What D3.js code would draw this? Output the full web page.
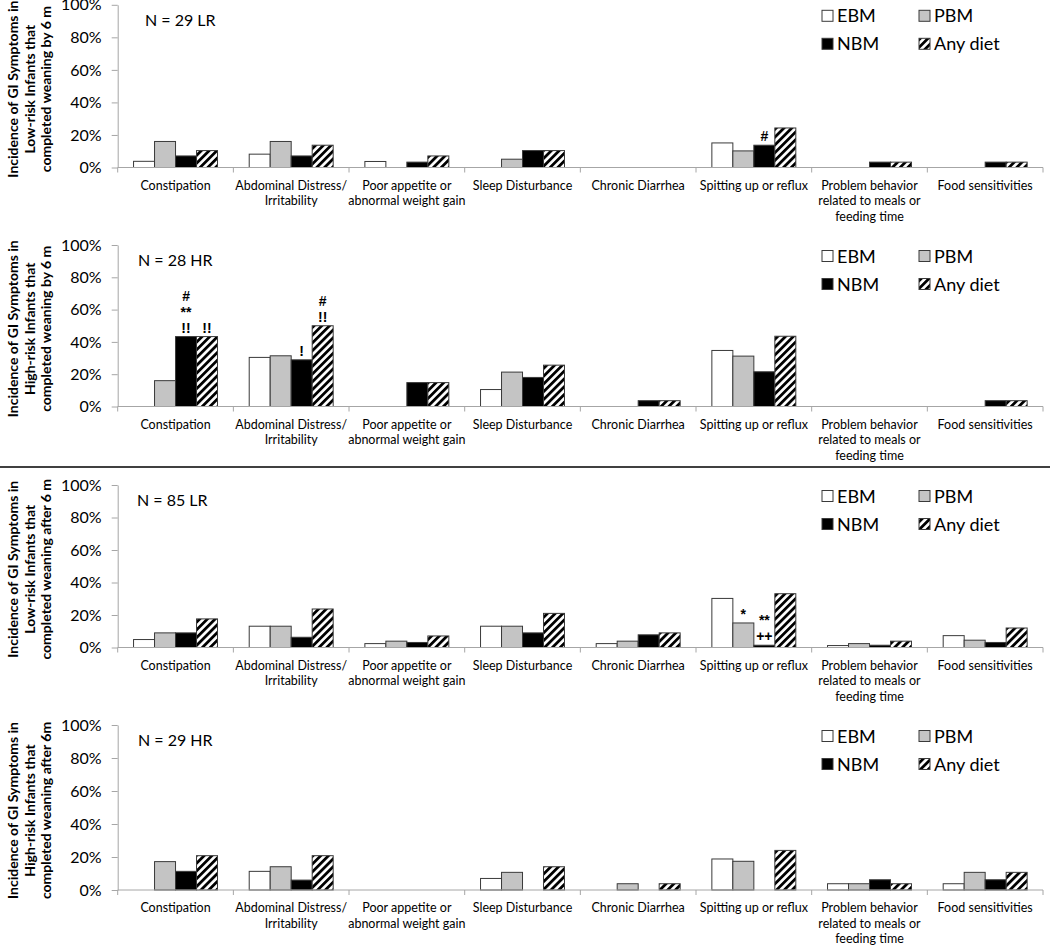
<!DOCTYPE html>
<html>
<head>
<meta charset="utf-8">
<script src="https://cdn.jsdelivr.net/npm/d3@7"></script>
<style>
  html, body { margin: 0; padding: 0; background: #fff; }
  svg { display: block; font-family: Lato, "Open Sans", sans-serif; }
</style>
</head>
<body>
<svg id="chart" width="1050" height="945"></svg>
<script>
// ---------------- data ----------------
const categories = [
  ["Constipation"],
  ["Abdominal Distress/", "Irritability"],
  ["Poor appetite or", "abnormal weight gain"],
  ["Sleep Disturbance"],
  ["Chronic Diarrhea"],
  ["Spitting up or reflux"],
  ["Problem behavior", "related to meals or", "feeding time"],
  ["Food sensitivities"]
];
const seriesNames = ["EBM", "PBM", "NBM", "Any diet"];
const yTicks = [0, 20, 40, 60, 80, 100];

const panelTitles = ["N = 29 LR", "N = 28 HR", "N = 85 LR", "N = 29 HR"];
const yLabels = [
  ["Incidence of GI Symptoms in", "Low-risk Infants that", "completed weaning by 6 m"],
  ["Incidence of GI Symptoms in", "High-risk Infants that", "completed weaning by 6 m"],
  ["Incidence of GI Symptoms in", "Low-risk Infants that", "completed weaning after 6 m"],
  ["Incidence of GI Symptoms in", "High-risk Infants that", "completed weaning after 6m"]
];

// values (%) per panel, per series, per category
const p1EBM = [3.8, 8.2, 3.7, 0, 0, 15.1, 0, 0];
const p1PBM = [16.0, 16.0, 0, 5.1, 0, 10.2, 0, 0];
const p1NBM = [7.1, 7.1, 3.3, 10.4, 0, 13.7, 3.3, 3.3];
const p1Any = [10.4, 13.7, 7.1, 10.4, 0, 24.3, 3.3, 3.3];

const p2EBM = [0, 30.4, 0, 10.5, 0, 34.7, 0, 0];
const p2PBM = [16.0, 31.4, 0, 21.3, 0, 31.2, 0, 0];
const p2NBM = [43.3, 28.9, 14.8, 18.0, 3.6, 21.5, 0, 3.6];
const p2Any = [43.3, 50.0, 14.8, 25.6, 3.6, 43.5, 0, 3.6];

const p3EBM = [4.9, 13.1, 2.4, 13.1, 2.4, 30.2, 1.2, 7.3];
const p3PBM = [9.0, 13.1, 3.9, 13.1, 3.9, 15.1, 2.4, 4.5];
const p3NBM = [9.0, 6.3, 3.1, 9.0, 7.8, 1.4, 1.4, 3.1];
const p3Any = [17.6, 23.7, 7.1, 21.0, 9.0, 33.1, 3.9, 12.0];

const p4EBM = [0, 11.3, 0, 7.0, 0, 18.8, 3.8, 3.8];
const p4PBM = [17.2, 14.1, 0, 10.7, 3.8, 17.4, 3.8, 10.7];
const p4NBM = [11.3, 6.0, 0, 0, 0, 0, 6.2, 6.2];
const p4Any = [20.8, 20.8, 0, 14.1, 3.8, 24.0, 3.8, 10.7];

// significance marks: [panel, category index, series index, lines top->bottom]
const annotations = [
  [0, 5, 2, ["#"]],
  [1, 0, 2, ["#", "**", "!!"]],
  [1, 0, 3, ["!!"]],
  [1, 1, 2, ["!"]],
  [1, 1, 3, ["#", "!!"]],
  [2, 5, 1, ["*"]],
  [2, 5, 2, ["**", "++"]]
];

const panelValues = [
  [p1EBM, p1PBM, p1NBM, p1Any],
  [p2EBM, p2PBM, p2NBM, p2Any],
  [p3EBM, p3PBM, p3NBM, p3Any],
  [p4EBM, p4PBM, p4NBM, p4Any]
];

// ---------------- layout ----------------
const svg = d3.select("#chart");
const panelY = [ [4.8, 167.5], [245, 406.5], [485, 647.5], [725, 890] ]; // [top(100%), bottom(0%)]
const titleX = [145, 138, 137, 138];
const xLeft = 117.7, xRight = 1043;

const defs = svg.append("defs");
const pat = defs.append("pattern")
  .attr("id", "hatch").attr("patternUnits", "userSpaceOnUse")
  .attr("width", 5.5).attr("height", 5.5)
  .attr("patternTransform", "rotate(45)");
pat.append("rect").attr("width", 5.5).attr("height", 5.5).attr("fill", "#fff");
pat.append("rect").attr("width", 2.8).attr("height", 5.5).attr("fill", "#000");

const fills = ["#ffffff", "#c4c4c4", "#000000", "url(#hatch)"];

const x0 = d3.scaleBand().domain(d3.range(categories.length)).range([xLeft, xRight]).paddingInner(0).paddingOuter(0);
const x1 = d3.scaleBand().domain(d3.range(seriesNames.length)).range([0, x0.bandwidth()]).paddingInner(0).paddingOuter(0.755);

panelY.forEach((py, pi) => {
  const g = svg.append("g");
  const y = d3.scaleLinear().domain([0, 100]).range([py[1], py[0]]);

  // y axis
  const yAxis = g.append("g").attr("transform", `translate(${xLeft},0)`)
    .call(d3.axisLeft(y).tickValues(yTicks).tickFormat(d => d + "%").tickSize(6).tickSizeOuter(0).tickPadding(10));
  yAxis.select(".domain").attr("stroke", "#a6a6a6");
  yAxis.selectAll(".tick line").attr("stroke", "#a6a6a6");
  yAxis.selectAll(".tick text").attr("font-size", 16).attr("fill", "#000").attr("font-family", "Lato, sans-serif");

  // bars
  panelValues[pi].forEach((vals, si) => {
    g.selectAll(null).data(vals.map((v, ci) => ({v, ci})).filter(d => d.v > 0))
      .enter().append("rect")
      .attr("x", d => x0(d.ci) + x1(si))
      .attr("width", x1.bandwidth())
      .attr("y", d => y(d.v))
      .attr("height", d => y(0) - y(d.v))
      .attr("fill", fills[si])
      .attr("stroke", "#3a3a3a").attr("stroke-width", 1);
  });

  // x axis
  const xAxis = g.append("g");
  xAxis.append("line").attr("x1", xLeft).attr("x2", xRight).attr("y1", y(0)).attr("y2", y(0))
    .attr("stroke", "#a6a6a6").attr("stroke-width", 1);
  const bounds = d3.range(categories.length + 1).map(i => i < categories.length ? x0(i) : xRight);
  xAxis.selectAll(null).data(bounds).enter().append("line")
    .attr("x1", d => d).attr("x2", d => d).attr("y1", y(0)).attr("y2", y(0) + 5)
    .attr("stroke", "#a6a6a6");
  categories.forEach((lines, ci) => {
    const t = xAxis.append("text").attr("text-anchor", "middle")
      .attr("font-size", 12.5).attr("fill", "#000");
    lines.forEach((ln, li) => {
      t.append("tspan").attr("x", x0(ci) + x0.bandwidth() / 2)
        .attr("y", y(0) + 22 + li * 15.5).text(ln);
    });
  });

  // y axis title
  const cy = (py[0] + py[1]) / 2 + 3;
  const yt = g.append("text").attr("transform", `translate(0,${cy}) rotate(-90)`)
    .attr("text-anchor", "middle").attr("font-size", 14).attr("font-weight", "bold").attr("fill", "#000");
  yLabels[pi].forEach((ln, li) => {
    yt.append("tspan").attr("x", 0).attr("y", 18 + li * 16.5).text(ln);
  });

  // panel title
  g.append("text").attr("x", titleX[pi]).attr("y", py[0] + 21).attr("font-size", 16).attr("fill", "#000")
    .text(panelTitles[pi]);

  // legend
  const legPos = [[822, 11], [919, 11], [822, 39], [919, 39]];
  seriesNames.forEach((nm, si) => {
    const lx = legPos[si][0], ly = py[0] + legPos[si][1];
    g.append("rect").attr("x", lx).attr("y", ly - 5.5).attr("width", 11).attr("height", 11)
      .attr("fill", fills[si]).attr("stroke", "#3a3a3a").attr("stroke-width", 1);
    g.append("text").attr("x", lx + 15).attr("y", ly + 6.5).attr("font-size", 18).attr("fill", "#000").text(nm);
  });

  // annotations (one text block per bar, lines stacked upward from the bar top)
  annotations.filter(a => a[0] === pi).forEach(a => {
    const ci = a[1], si = a[2];
    const cx = x0(ci) + x1(si) + x1.bandwidth() / 2;
    const top = y(panelValues[pi][si][ci]);
    const n = a[3].length;
    const t = g.append("text").attr("text-anchor", "middle").attr("font-size", 14)
      .attr("font-family", "'Liberation Sans', Arial, sans-serif")
      .attr("font-weight", "bold").attr("fill", "#000");
    a[3].forEach((s, k) => {
      t.append("tspan").attr("x", cx).attr("y", top - 4 - (n - 1 - k) * 16).text(s);
    });
  });
});

// divider between the two halves
svg.append("line").attr("x1", 0).attr("x2", 1050).attr("y1", 467).attr("y2", 467)
  .attr("stroke", "#000").attr("stroke-width", 1.5);
</script>
</body>
</html>
